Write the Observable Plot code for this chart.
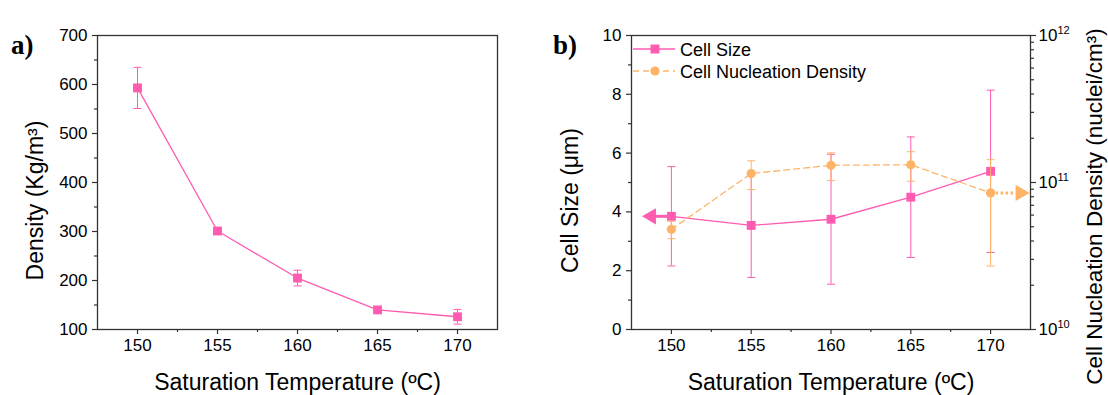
<!DOCTYPE html>
<html><head><meta charset="utf-8">
<script src="https://cdn.jsdelivr.net/npm/d3@7"></script>
<script src="https://cdn.jsdelivr.net/npm/@observablehq/plot@0.6"></script>
<style>
body{margin:0;background:#fff;}
#wrap{position:relative;width:1108px;height:395px;overflow:hidden;background:#fff;font-family:"Liberation Sans",Arial,sans-serif;}
.layer{position:absolute;top:0;}
.tag{position:absolute;font-family:"Liberation Serif","Times New Roman",serif;font-weight:bold;font-size:27px;line-height:1;color:#000;}
</style></head><body>
<div id="wrap">
  <div id="pa" class="layer" style="left:0"></div>
  <div id="pb" class="layer" style="left:540px"></div>
  <div id="pb2" class="layer" style="left:540px"></div>
  <div class="tag" style="left:11px;top:32px">a)</div>
  <div class="tag" style="left:553px;top:32px">b)</div>
  <svg id="legend" width="280" height="52" style="position:absolute;left:625px;top:36px"></svg>
</div>
<script>
// ---- data ----
const temps = [150, 155, 160, 165, 170];
const density = [593, 301, 205, 140, 126];
const densityErr = [42, 4, 16, 5, 15];
const cellSize = [3.85, 3.54, 3.75, 4.5, 5.38];
const cellSizeErr = [1.69, 1.77, 2.21, 2.05, 2.76];
const nucleation = [4.8e10, 1.15e11, 1.31e11, 1.32e11, 8.5e10];
const nucleationErr = [6.5e9, 2.55e10, 2.8e10, 3.0e10, 5.8e10];
const seriesNames = ["Cell Size", "Cell Nucleation Density"];
const xTicks = [150, 155, 160, 165, 170];
const xMinorTicks = [152.5, 157.5, 162.5, 167.5];
const densityTicks = [100, 200, 300, 400, 500, 600, 700];
const densityMinorTicks = [150, 250, 350, 450, 550, 650];
const cellTicks = [0, 2, 4, 6, 8, 10];
const cellMinorTicks = [1, 3, 5, 7, 9];
const nucTicks = [1e10, 1e11, 1e12];
const nucMinorTicks = [2e10, 3e10, 4e10, 5e10, 6e10, 7e10, 8e10, 9e10, 2e11, 3e11, 4e11, 5e11, 6e11, 7e11, 8e11, 9e11];
const xLabel = "Saturation Temperature (ºC)";
const densityLabel = "Density (Kg/m³)";
const cellLabel = "Cell Size (μm)";
const nucLabel = "Cell Nucleation Density (nuclei/cm³)";

// ---- styling ----
const pink = "#ff5bb1", orange = "#fdb467", axisStroke = "#333";
const font = "'Liberation Sans', Arial, Helvetica, sans-serif";
const xDomain = [147.5, 172.5];
const baseStyle = {fontFamily: font, fontSize: "17px", color: "#000", background: "transparent", overflow: "hidden"};
const capSymbol = {draw(ctx, size) { const r = Math.sqrt(size / Math.PI); ctx.moveTo(-r, 0); ctx.lineTo(r, 0); }};

const rowsA = temps.map((t, i) => ({t, v: density[i], lo: density[i] - densityErr[i], hi: density[i] + densityErr[i]}));
const rowsS = temps.map((t, i) => ({t, v: cellSize[i], lo: cellSize[i] - cellSizeErr[i], hi: cellSize[i] + cellSizeErr[i]}));
const rowsN = temps.map((t, i) => ({t, v: nucleation[i], lo: nucleation[i] - nucleationErr[i], hi: nucleation[i] + nucleationErr[i]}));

// annotation arrows pointing at each series' axis
const arrowS = [{x1: temps[0], x2: xDomain[0] + 1.4, head: xDomain[0] + 1.24, y: cellSize[0]}];
const last = temps.length - 1;
const arrowN = [{x1: temps[last], x2: xDomain[1] - 1.1, head: xDomain[1] - 0.64, y: nucleation[last]}];

const titleOpts = {fontSize: 23, fill: "#000", textAnchor: "middle", lineAnchor: "middle"};

function xAxes() {
  return [
    Plot.axisX({ticks: xTicks, tickSize: 5, tickPadding: 4, fontSize: 17, label: null, stroke: axisStroke, strokeWidth: 1.2}),
    Plot.axisX({ticks: xMinorTicks, tickSize: 3, tickFormat: () => "", label: null, stroke: axisStroke, strokeWidth: 1.2}),
    Plot.text([xLabel], {frameAnchor: "bottom", dy: 53, ...titleOpts})
  ];
}
function errorMarks(rows, color) {
  return [
    Plot.ruleX(rows, {x: "t", y1: "lo", y2: "hi", stroke: color, strokeWidth: 1}),
    Plot.dot(rows, {x: "t", y: "lo", symbol: capSymbol, r: 4, stroke: color, fill: "none", strokeWidth: 1}),
    Plot.dot(rows, {x: "t", y: "hi", symbol: capSymbol, r: 4, stroke: color, fill: "none", strokeWidth: 1})
  ];
}

// ---- panel a ----
const pa = Plot.plot({
  width: 540, height: 395, marginLeft: 97, marginRight: 43, marginTop: 35, marginBottom: 66,
  style: baseStyle,
  x: {domain: xDomain},
  y: {domain: [100, 700]},
  marks: [
    ...xAxes(),
    Plot.axisY({ticks: densityTicks, tickSize: 5, tickPadding: 5, fontSize: 17, label: null, stroke: axisStroke, strokeWidth: 1.2}),
    Plot.axisY({ticks: densityMinorTicks, tickSize: 3, tickFormat: () => "", label: null, stroke: axisStroke, strokeWidth: 1.2}),
    Plot.text([densityLabel], {frameAnchor: "left", dx: -62, dy: 18, rotate: -90, ...titleOpts}),
    ...errorMarks(rowsA, pink),
    Plot.line(rowsA, {x: "t", y: "v", stroke: pink, strokeWidth: 1.3}),
    Plot.dot(rowsA, {x: "t", y: "v", symbol: "square", r: 5, fill: pink}),
    Plot.frame({stroke: axisStroke, strokeWidth: 1.3})
  ]
});
document.getElementById("pa").append(pa);

// ---- panel b, left axis (cell size) ----
const pbOpts = {width: 568, height: 395, marginLeft: 91, marginRight: 78, marginTop: 35, marginBottom: 66, style: baseStyle};
const pb = Plot.plot({
  ...pbOpts,
  x: {domain: xDomain},
  y: {domain: [0, 10]},
  marks: [
    ...xAxes(),
    Plot.axisY({ticks: cellTicks, tickSize: 5, tickPadding: 5, fontSize: 17, label: null, stroke: axisStroke, strokeWidth: 1.2}),
    Plot.axisY({ticks: cellMinorTicks, tickSize: 3, tickFormat: () => "", label: null, stroke: axisStroke, strokeWidth: 1.2}),
    Plot.text([cellLabel], {frameAnchor: "left", dx: -61, dy: 18, rotate: -90, ...titleOpts}),
    ...errorMarks(rowsS, pink),
    Plot.line(rowsS, {x: "t", y: "v", stroke: pink, strokeWidth: 1.3}),
    Plot.link(arrowS, {x1: "x1", x2: "x2", y1: "y", y2: "y", stroke: pink, strokeWidth: 3}),
    Plot.dot(arrowS, {x: "head", y: "y", symbol: "triangle", r: 6, rotate: -90, fill: pink}),
    Plot.dot(rowsS, {x: "t", y: "v", symbol: "square", r: 5, fill: pink}),
    Plot.frame({stroke: axisStroke, strokeWidth: 1.3})
  ]
});
document.getElementById("pb").append(pb);

// ---- panel b, right axis (nucleation density, log) ----
const pb2 = Plot.plot({
  ...pbOpts,
  x: {domain: xDomain, axis: null},
  y: {type: "log", domain: [1e10, 1e12]},
  marks: [
    Plot.axisY({anchor: "right", ticks: nucTicks, tickSize: 5, tickPadding: 3, fontSize: 17, label: null,
      tickFormat: d => String(Math.round(Math.log10(d))), stroke: axisStroke, strokeWidth: 1.2}),
    Plot.axisY({anchor: "right", ticks: nucMinorTicks, tickSize: 3, tickFormat: () => "", label: null, stroke: axisStroke, strokeWidth: 1.2}),
    Plot.text([nucLabel], {frameAnchor: "right", dx: 64, dy: 24, rotate: -90, ...titleOpts, fontSize: 22.5}),
    ...errorMarks(rowsN, orange),
    Plot.line(rowsN, {x: "t", y: "v", stroke: orange, strokeWidth: 1.3, strokeDasharray: "6,4"}),
    Plot.link(arrowN, {x1: "x1", x2: "x2", y1: "y", y2: "y", stroke: orange, strokeWidth: 3, strokeDasharray: "2.5,2.5"}),
    Plot.dot(arrowN, {x: "head", y: "y", symbol: "triangle", r: 6, rotate: 90, fill: orange}),
    Plot.dot(rowsN, {x: "t", y: "v", symbol: "circle", r: 4.6, fill: orange})
  ]
});
document.getElementById("pb2").append(pb2);

// superscript exponents on log tick labels
d3.select(pb2).selectAll('g[aria-label="y-axis tick label"] text').each(function () {
  const e = this.textContent.trim();
  if (!e) return;
  const t = d3.select(this);
  t.text("10");
  t.append("tspan").attr("dy", "-0.62em").attr("font-size", "11px").text(e);
});

// ---- legend ----
const lg = d3.select("#legend");
const rows = [
  {name: seriesNames[0], color: pink, dash: null, sym: d3.symbolSquare, size: 80},
  {name: seriesNames[1], color: orange, dash: "6,4", sym: d3.symbolCircle, size: 66}
];
rows.forEach((r, i) => {
  const y = 13 + i * 22;
  lg.append("line").attr("x1", 8).attr("x2", 50).attr("y1", y).attr("y2", y)
    .attr("stroke", r.color).attr("stroke-width", 1.3).attr("stroke-dasharray", r.dash);
  lg.append("path").attr("d", d3.symbol(r.sym, r.size)()).attr("transform", `translate(30,${y})`).attr("fill", r.color);
  lg.append("text").attr("x", 55).attr("y", y + 6.5).attr("font-family", font).attr("font-size", 18).attr("fill", "#000").text(r.name);
});
</script>
</body></html>
